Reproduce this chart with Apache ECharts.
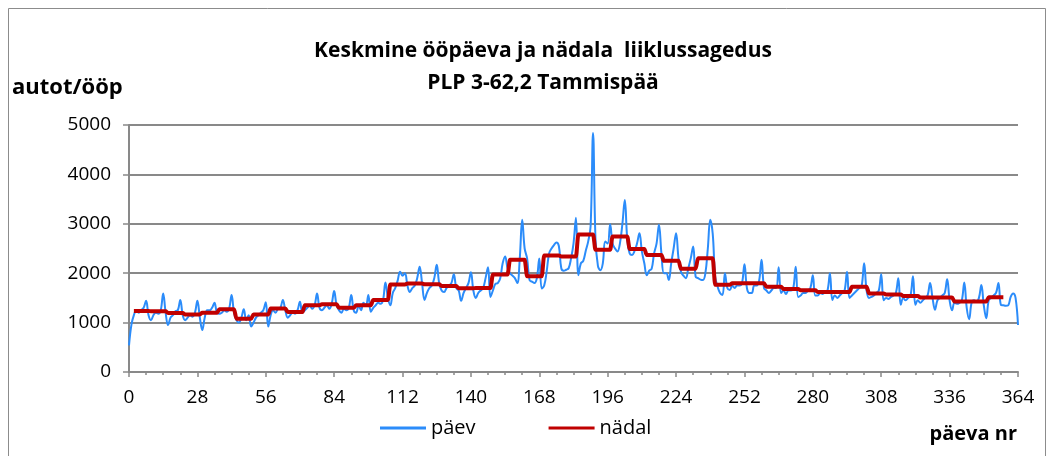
<!DOCTYPE html>
<html>
<head>
<meta charset="utf-8">
<script src="https://cdn.jsdelivr.net/npm/echarts@6/dist/echarts.min.js"></script>
<style>
html,body{margin:0;padding:0;background:#fff;}
#c{width:1053px;height:456px;}
</style>
</head>
<body>
<div id="c"></div>
<script>
// ---- data ----
const titleLines = ['Keskmine ööpäeva ja nädala  liiklussagedus', 'PLP 3-62,2 Tammispää'];
const yAxisTitle = 'autot/ööp';
const xAxisTitle = 'päeva nr';
const seriesNames = ['päev', 'nädal'];
const xTicks = [0, 28, 56, 84, 112, 140, 168, 196, 224, 252, 280, 308, 336, 364];
const yTicks = [0, 1000, 2000, 3000, 4000, 5000];

// daily traffic, day 0 .. 364
const daily = [
  540, 960, 1150, 1250, 1200, 1250, 1300,
  1440, 1150, 1050, 1150, 1200, 1180, 1250,
  1590, 1200, 950, 1100, 1150, 1230, 1250,
  1460, 1150, 1050, 1100, 1150, 1120, 1200,
  1440, 1100, 850, 1100, 1250, 1250, 1300,
  1400, 1200, 1180, 1200, 1250, 1220, 1280,
  1560, 1200, 1050, 1000, 1100, 1270, 1050,
  1150, 920, 1000, 1100, 1150, 1200, 1250,
  1410, 920, 1150, 1250, 1200, 1280, 1300,
  1460, 1250, 1100, 1150, 1200, 1180, 1250,
  1420, 1200, 1250, 1300, 1350, 1280, 1350,
  1590, 1300, 1250, 1300, 1350, 1280, 1380,
  1640, 1350, 1250, 1200, 1280, 1250, 1300,
  1560, 1250, 1200, 1350, 1250, 1400, 1350,
  1560, 1220, 1300, 1350, 1400, 1380, 1450,
  1810, 1500, 1350, 1600, 1700, 1850, 2030,
  1950, 2000, 1750, 1620, 1700, 1750, 1900,
  2130, 1800, 1460, 1600, 1700, 1750, 1900,
  2170, 1800, 1650, 1620, 1700, 1750, 1800,
  1980, 1700, 1650, 1440, 1600, 1700, 1800,
  2020, 1650, 1500, 1600, 1650, 1700, 1900,
  2120, 1520, 1650, 1780, 1800, 1900, 2200,
  2340, 2100, 2000, 1950, 1900, 1800, 2300,
  3080, 2500, 2300, 1860, 1830, 1800, 1900,
  2300, 1690, 1750, 2030, 2400, 2500, 2570,
  2620, 2550, 2100, 2050, 2070, 2100, 2300,
  2600, 3120, 1960, 2200, 2250, 2450, 2640,
  2950, 4840, 2700, 2150, 2060, 2200, 2640,
  2600, 2990, 2600, 2500, 2440, 2600, 2990,
  3480, 2700, 2400, 2370, 2450, 2600, 2810,
  2440, 2200, 1960, 2050, 2090, 2400, 2600,
  2980, 2400, 2000, 2000, 1860, 2200, 2500,
  2810, 2300, 2030, 1950, 1900, 2100, 2300,
  2540, 1930, 1900, 1870, 1860, 2000, 2500,
  3080, 2800, 1930, 1730, 1600, 1560, 2000,
  1700, 1660, 1750, 1700, 1750, 1750, 1800,
  2180, 1700, 1600, 1600, 1750, 1750, 1850,
  2270, 1700, 1650, 1600, 1650, 1700, 1700,
  2120, 1600, 1650, 1580, 1650, 1650, 1700,
  2130, 1520, 1550, 1600, 1600, 1650, 1700,
  1960, 1550, 1550, 1600, 1580, 1620, 1650,
  2000, 1460, 1550, 1500, 1550, 1600, 1650,
  2030, 1500, 1550, 1600, 1650, 1700, 1750,
  2200, 1650, 1500, 1520, 1550, 1600, 1650,
  1980, 1450, 1500, 1480, 1520, 1550, 1600,
  1900, 1360, 1500, 1450, 1500, 1550, 1940,
  1360, 1450, 1400, 1450, 1500, 1550, 1800,
  1500, 1260, 1450, 1500, 1550, 1600, 1880,
  1450, 1250, 1400, 1380, 1400, 1450, 1810,
  1300, 1070, 1400, 1450, 1420, 1500, 1760,
  1350, 1090, 1450, 1500, 1550, 1600, 1800,
  1360, 1350, 1340, 1350, 1520, 1590, 1500,
  950
];

// weekly averages, each covering 7 days starting at day weekStart
const weekStart = 2;
const weekly = [
  1235, 1230, 1195, 1165, 1200, 1270, 1080, 1165, 1285, 1215,
  1350, 1370, 1300, 1350, 1460, 1770, 1790, 1775, 1740, 1695,
  1700, 1975, 2270, 1940, 2360, 2340, 2785, 2475, 2745, 2490,
  2370, 2250, 2090, 2305, 1765, 1795, 1795, 1725, 1680, 1655,
  1620, 1620, 1725, 1590, 1570, 1540, 1510, 1510, 1425, 1425,
  1515
];

// ---- build series data ----
const dailyData = daily.map((v, d) => [d, v]);
const weeklyData = [];
weekly.forEach((v, w) => {
  for (let k = 0; k < 7; k++) weeklyData.push([weekStart + w * 7 + k, v]);
});

const FONT = 'Open Sans';
const chart = echarts.init(document.getElementById('c'), null, {renderer: 'canvas'});
chart.setOption({
  animation: false,
  backgroundColor: '#ffffff',
  textStyle: {fontFamily: FONT, color: '#000'},
  title: {
    text: titleLines.join('\n'),
    left: 538,
    top: 30,
    textAlign: 'center',
    textStyle: {fontFamily: FONT, fontSize: 21, fontWeight: 'bold', color: '#000', lineHeight: 32}
  },
  grid: {left: 129, right: 35, top: 125, bottom: 84, containLabel: false},
  legend: {
    data: [
      {name: seriesNames[0], icon: 'rect'},
      {name: seriesNames[1], icon: 'rect'}
    ],
    left: 375,
    top: 413,
    itemWidth: 46,
    itemHeight: 3,
    itemGap: 73,
    textStyle: {fontFamily: FONT, fontSize: 20, color: '#000'}
  },
  xAxis: {
    type: 'value',
    min: xTicks[0],
    max: xTicks[xTicks.length - 1],
    interval: 28,
    axisLine: {show: true, lineStyle: {color: '#898989', width: 2}},
    axisTick: {show: true, length: 5, lineStyle: {color: '#898989', width: 1.5}},
    minorTick: {show: true, splitNumber: 4, length: 3, lineStyle: {color: '#898989', width: 1.5}},
    axisLabel: {fontFamily: FONT, fontSize: 19, color: '#000', margin: 16},
    splitLine: {show: false}
  },
  yAxis: {
    type: 'value',
    min: yTicks[0],
    max: yTicks[yTicks.length - 1],
    interval: 1000,
    axisLine: {show: true, lineStyle: {color: '#898989', width: 2}},
    axisTick: {show: true, length: 6, lineStyle: {color: '#898989', width: 1.5}},
    axisLabel: {fontFamily: FONT, fontSize: 19, color: '#000', margin: 18, formatter: v => String(v)},
    splitLine: {show: true, lineStyle: {color: '#898989', width: 2}}
  },
  graphic: [
    {type: 'rect', shape: {x: 8.5, y: 8.5, width: 1037, height: 470}, style: {fill: 'none', stroke: '#8c8c8c', lineWidth: 1}, silent: true, z: -1},
    {type: 'text', left: 12, top: 77, style: {text: yAxisTitle, font: 'bold 22px "Open Sans"', fill: '#000'}},
    {type: 'text', right: 36, top: 424, style: {text: xAxisTitle, font: 'bold 20px "Open Sans"', fill: '#000'}}
  ],
  series: [
    {
      name: seriesNames[0], type: 'line', data: dailyData, showSymbol: false, symbol: 'none',
      smooth: 0.4,
      lineStyle: {color: '#2B8CFA', width: 2}, itemStyle: {color: '#2B8CFA'}, z: 2
    },
    {
      name: seriesNames[1], type: 'line', data: weeklyData, showSymbol: false, symbol: 'none',
      smooth: 0.3, smoothMonotone: 'x',
      lineStyle: {color: '#C00000', width: 4}, itemStyle: {color: '#C00000'}, z: 3
    }
  ]
});
</script>
</body>
</html>
